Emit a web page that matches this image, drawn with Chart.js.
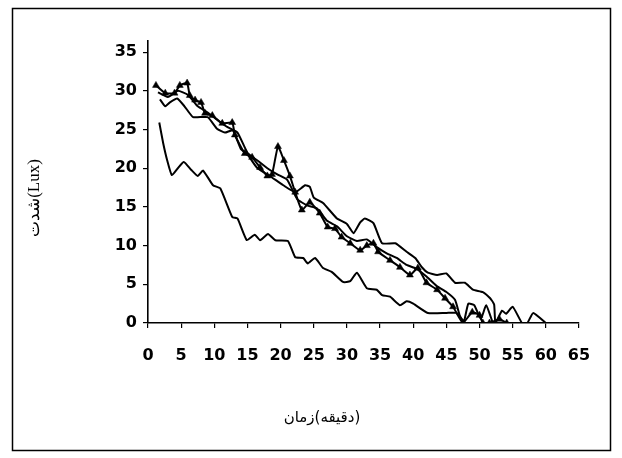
<!DOCTYPE html>
<html>
<head>
<meta charset="utf-8">
<script src="https://cdn.jsdelivr.net/npm/chart.js@4/dist/chart.umd.min.js"></script>
<style>
html,body{margin:0;padding:0;background:#fff;}
#wrap{position:relative;width:622px;height:458px;}
</style>
</head>
<body>
<div id="wrap"><canvas id="c" width="622" height="458"></canvas></div>
<script>
// ---- data ----
const xTicks = [0,5,10,15,20,25,30,35,40,45,50,55,60,65];
const yTicks = [0,5,10,15,20,25,30,35];
const xTitle = "زمان\u200E(دقیقه)\u200E";
const yTitle = "شدت(Lux)";

const triX = [1.2, 2.6, 4, 4.8, 5.9, 6.3, 7.1, 8, 8.6, 9.7, 11.2, 12.7, 13.1, 14.6, 15.7, 16.9, 18, 18.7, 19.6, 20.5, 21.4, 22.2, 23.2, 24.4, 25.9, 27.1, 28.2, 29.2, 30.5, 32, 33, 34, 34.7, 36.5, 38, 39.5, 40.7, 42, 43.6, 44.8, 46, 47.5, 48.9, 50, 50.5, 51.5, 53, 54.1];
const triY = [30.7, 29.7, 29.7, 30.7, 31, 29.4, 28.8, 28.5, 27.1, 26.8, 25.8, 25.9, 24.3, 21.9, 21.4, 20.1, 19, 19.2, 22.8, 21, 19, 16.9, 14.6, 15.6, 14.2, 12.4, 12.2, 11.1, 10.3, 9.4, 10, 10.3, 9.2, 8.1, 7.2, 6.2, 7.1, 5.2, 4.3, 3.2, 2.1, 0, 1.4, 1, 0, 0, 0.5, 0];

const upX = [1.8, 2.6, 3.3, 4.4, 5.5, 6.8, 9, 10.4, 11.6, 12.8, 14, 15, 16.4, 18.7, 20.4, 22.2, 23.7, 24.4, 25, 26.4, 28.5, 30, 31, 32, 32.7, 34, 35.3, 37.3, 39, 40.3, 41.3, 42.2, 43.6, 45, 46.3, 47.8, 49, 50.5, 51.6, 52.2, 52.4, 53.4, 54, 55, 56.4, 57.2, 58.1, 60];
const upY = [28.9, 28, 28.5, 29, 28, 26.6, 26.6, 25.1, 24.6, 24.9, 22.5, 21.8, 20.1, 18.8, 17.8, 16.9, 17.8, 17.6, 16.2, 15.5, 13.5, 12.8, 11.6, 13, 13.5, 12.9, 10.3, 10.3, 9.2, 8.4, 7.2, 6.5, 6.2, 6.4, 5.2, 5.2, 4.3, 4, 3.2, 2.4, 0, 1.6, 1.2, 2.1, 0, 0, 1.3, 0];

const midX = [1.5, 3, 4.5, 6, 7.5, 9, 10.5, 12, 13.5, 15, 16.5, 18, 19.5, 21, 22.5, 24, 25.5, 27, 28.5, 30, 31.5, 33, 34.5, 36, 37.5, 39, 40.5, 42, 43.5, 45, 46.3, 47, 47.6, 48.3, 49.2, 50.2, 51, 52];
const midY = [29.8, 29.2, 30, 29.5, 28, 27.2, 26.2, 25.3, 24.6, 22, 21, 20, 19.2, 18.5, 16, 15.2, 14.8, 13.2, 12.5, 11.2, 10.6, 10.8, 9.8, 9, 8.4, 7.5, 7, 6, 4.8, 4, 3, 1, 0, 2.5, 2.3, 0.5, 2.3, 0];

const lowX = [1.7, 2.3, 2.9, 3.6, 4.5, 5.4, 6.5, 7.5, 8.3, 9.8, 10.9, 12.7, 13.5, 14.9, 16.1, 16.9, 18.1, 19.2, 21.1, 22.2, 23.4, 24.1, 25.2, 26.4, 27.7, 29.4, 30.5, 31.5, 33, 34.5, 35.3, 36.5, 38, 39, 40, 42.2, 45, 46.5, 47.8];
const lowY = [25.9, 23.2, 21, 19.1, 20, 20.8, 19.8, 19, 19.7, 17.8, 17.4, 13.7, 13.5, 10.7, 11.4, 10.7, 11.5, 10.7, 10.6, 8.5, 8.4, 7.7, 8.4, 7.1, 6.6, 5.3, 5.4, 6.5, 4.5, 4.3, 3.6, 3.4, 2.3, 2.8, 2.5, 1.3, 1.3, 1.3, 0];

const pts = (xs, ys) => xs.map((x, i) => ({x: x, y: ys[i]}));

const framePlugin = {
  id: 'frame',
  beforeDraw(chart) {
    const ctx = chart.ctx;
    ctx.save();
    ctx.fillStyle = '#fff';
    ctx.fillRect(0, 0, chart.width, chart.height);
    ctx.strokeStyle = '#000';
    ctx.lineWidth = 1.5;
    ctx.strokeRect(12.5, 8.5, 598, 442);
    ctx.restore();
  },
  afterDraw(chart) {
    const ctx = chart.ctx;
    ctx.save();
    ctx.fillStyle = '#000';
    ctx.textAlign = 'center';
    ctx.textBaseline = 'middle';
    ctx.font = '15px "DejaVu Sans", sans-serif';
    ctx.fillText(xTitle, 322, 418);
    ctx.translate(35, 198);
    ctx.rotate(-Math.PI / 2);
    ctx.font = '17px "Liberation Serif", "DejaVu Serif", serif';
    ctx.fillText(yTitle, 0, 0);
    ctx.restore();
  }
};

const lineDs = (data, tri) => ({
  data: data,
  borderColor: '#000',
  backgroundColor: '#000',
  borderWidth: 2,
  tension: 0.15,
  pointStyle: tri ? 'triangle' : 'circle',
  pointRadius: tri ? 4 : 0,
  pointBorderWidth: 0.5,
  showLine: true,
  fill: false
});

new Chart(document.getElementById('c'), {
  type: 'scatter',
  data: {
    datasets: [
      lineDs(pts(lowX, lowY), false),
      lineDs(pts(upX, upY), false),
      lineDs(pts(midX, midY), false),
      lineDs(pts(triX, triY), true)
    ]
  },
  options: {
    responsive: false,
    animation: false,
    layout: {padding: {left: 0, right: 43, top: 40.5, bottom: 0}},
    plugins: {legend: {display: false}, tooltip: {enabled: false}},
    scales: {
      x: {
        type: 'linear',
        min: 0, max: 65,
        afterFit: s => { s.height = 135; },
        afterBuildTicks: s => { s.ticks = xTicks.map(v => ({value: v})); },
        grid: {drawOnChartArea: false, drawTicks: true, tickLength: 5, color: '#000', lineWidth: 1.2},
        border: {display: true, color: '#000', width: 1.6},
        ticks: {color: '#000', padding: 18, maxRotation: 0, autoSkip: false,
                font: {family: 'DejaVu Sans', size: 16, weight: 'bold'}}
      },
      y: {
        type: 'linear',
        min: 0, max: 36.5,
        afterFit: s => { s.width = 148; },
        afterBuildTicks: s => { s.ticks = yTicks.map(v => ({value: v})); },
        grid: {drawOnChartArea: false, drawTicks: true, tickLength: 5, color: '#000', lineWidth: 1.2},
        border: {display: true, color: '#000', width: 1.6},
        ticks: {color: '#000', padding: 6, autoSkip: false,
                font: {family: 'DejaVu Sans', size: 16, weight: 'bold'}}
      }
    }
  },
  plugins: [framePlugin]
});
</script>
</body>
</html>
